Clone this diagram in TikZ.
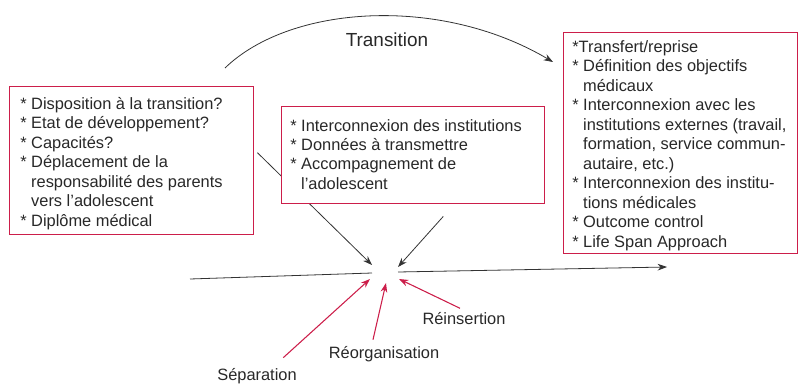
\documentclass[tikz,border=0pt]{standalone}
\usepackage{fontspec}
\setmainfont{Liberation Sans}
\usetikzlibrary{arrows.meta,backgrounds}
\definecolor{boxred}{RGB}{204,30,74}
\definecolor{textgray}{RGB}{40,40,40}
\tikzset{
	box/.style={draw=boxred, line width=1.1pt, fill=white, inner sep=0pt, anchor=north west},
	listtext/.style={anchor=base west, inner sep=0pt, text=textgray, font=\fontsize{12.3}{14.6}\selectfont},
	steplabel/.style={text=textgray, inner sep=1pt, font=\fontsize{12.3}{14.6}\selectfont},
	blackarrow/.style={draw=black!80, line width=0.6pt, -{Stealth[length=7pt,width=5pt]}},
	redarrow/.style={draw=boxred, line width=0.8pt, -{Stealth[length=7pt,width=5pt]}}
}
\begin{document}
\begin{tikzpicture}[x=0.75pt, y=-0.75pt]
		\useasboundingbox (0,0) rectangle (799,385);

		% boxes
		\node[box, minimum width=183pt, minimum height=111pt] (leftbox) at (9,86) {};
		\node[box, minimum width=197.25pt, minimum height=72.75pt] (midbox) at (281,106) {};
		\node[box, minimum width=175.5pt, minimum height=165.75pt] (rightbox) at (563,32) {};

		% box texts
		\node[listtext] (lefttext) at ([shift={(11,23.5)}]leftbox.north west) {%
			\begin{tabular}[t]{@{}l@{\ }l@{}}
				{*} & Disposition à la transition?\\
				{*} & Etat de développement?\\
				{*} & Capacités?\\
				{*} & Déplacement de la\\
				{}  & responsabilité des parents\\
				{}  & vers l’adolescent\\
				{*} & Diplôme médical
			\end{tabular}};
		\node[listtext] (midtext) at ([shift={(9,25)}]midbox.north west) {%
			\begin{tabular}[t]{@{}l@{\ }l@{}}
				{*} & Interconnexion des institutions\\
				{*} & Données à transmettre\\
				{*} & Accompagnement de\\
				{}  & l’adolescent
			\end{tabular}};
		\node[listtext] (righttext) at ([shift={(9,20.5)}]rightbox.north west) {%
			\begin{tabular}[t]{@{}l@{\ }l@{}}
				\multicolumn{2}{@{}l@{}}{*Transfert/reprise}\\
				{*} & Définition des objectifs\\
				{}  & médicaux\\
				{*} & Interconnexion avec les\\
				{}  & institutions externes (travail,\\
				{}  & formation, service commun-\\
				{}  & autaire, etc.)\\
				{*} & Interconnexion des institu-\\
				{}  & tions médicales\\
				{*} & Outcome control\\
				{*} & Life Span Approach
			\end{tabular}};

		% labels
		\node[steplabel, font=\fontsize{14.2}{16}\selectfont] (transition) at (387,40) {Transition};
		\node[steplabel] (separation) at (257,376) {Séparation};
		\node[steplabel] (reorg) at (384,354) {Réorganisation};
		\node[steplabel] (reins) at (464,319) {Réinsertion};

		% time line and hub
		\coordinate (tstart) at (190,279);
		\coordinate (gapleft) at (372,273);
		\coordinate (gapright) at (398,272);
		\coordinate (tend) at (667,267);
		\coordinate (arcstart) at (225,68);
		\coordinate (arcend) at (553,62);

		\draw[draw=black!80, line width=0.6pt] (tstart) -- (gapleft);
		\draw[blackarrow] (gapright) -- (tend);
		\draw[blackarrow] (arcstart) .. controls (290,5) and (440,-5) .. (arcend);

		\begin{pgfonlayer}{background}
			\draw[blackarrow] ([shift={(3,-8)}]leftbox.east) -- (372,265);
		\end{pgfonlayer}
		\draw[blackarrow] ([shift={(30,12)}]midbox.south) -- (398,267);

		\draw[redarrow] ([shift={(-15,-9)}]separation.north east) -- (370,279);
		\draw[redarrow] ([shift={(-11,-5)}]reorg.north) -- (386,283);
		\draw[redarrow] ([shift={(-4,-3)}]reins.north) -- (399,279);
\end{tikzpicture}
\end{document}
